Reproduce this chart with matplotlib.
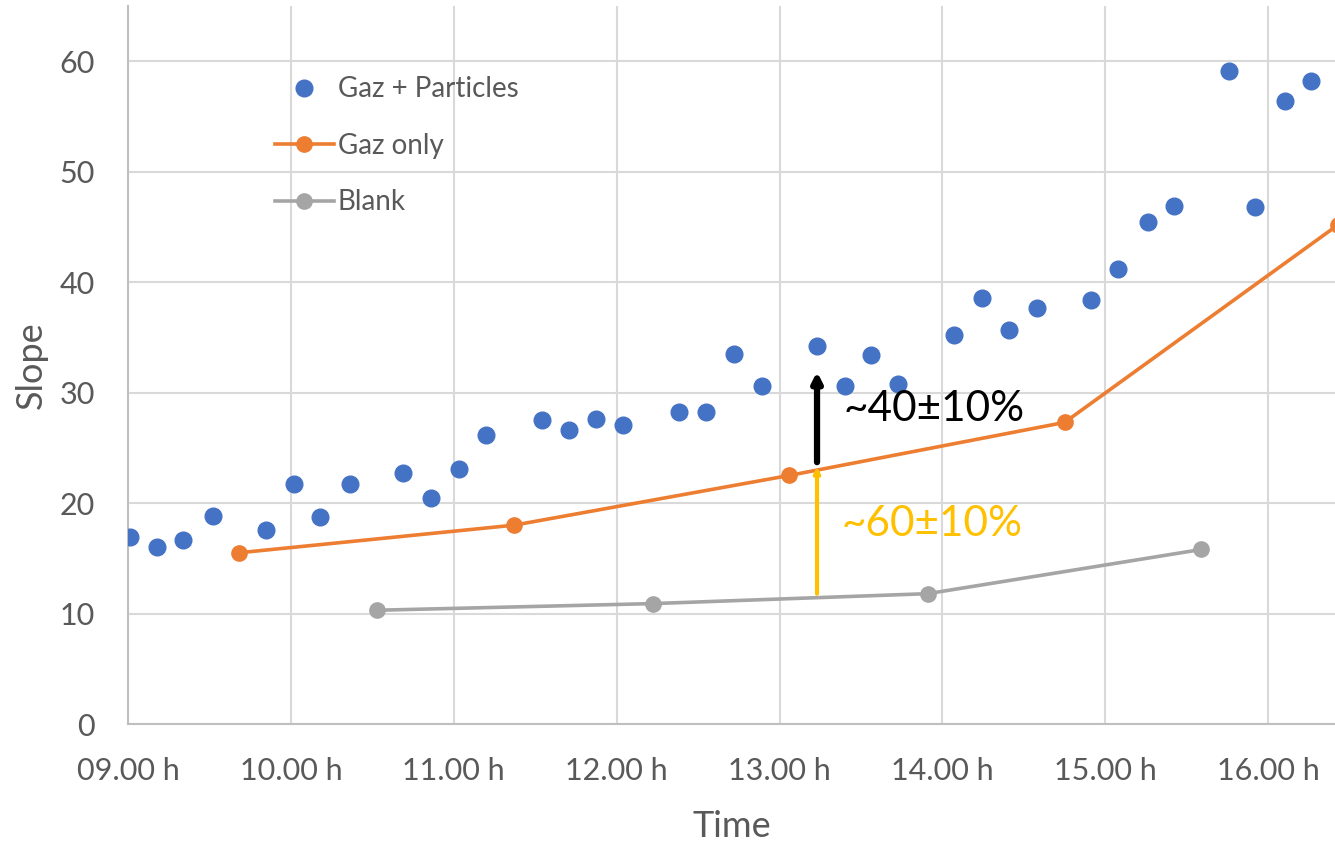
import numpy as np
import matplotlib
matplotlib.use("Agg")
import matplotlib.pyplot as plt

plt.rcParams['font.family'] = ['Lato', 'DejaVu Sans']

# time in decimal hours
gp_time = [9.01, 9.18, 9.34, 9.52, 9.85, 10.02, 10.18, 10.36, 10.69, 10.86,
           11.03, 11.20, 11.54, 11.71, 11.87, 12.04, 12.38, 12.55, 12.72, 12.89,
           13.23, 13.40, 13.56, 13.73, 14.07, 14.24, 14.41, 14.58, 14.91, 15.08,
           15.26, 15.42, 15.76, 15.92, 16.10, 16.26]
gp_slope = [16.9, 16.0, 16.7, 18.8, 17.6, 21.7, 18.7, 21.7, 22.7, 20.5,
            23.1, 26.2, 27.5, 26.6, 27.6, 27.1, 28.2, 28.2, 33.5, 30.6,
            34.2, 30.6, 33.4, 30.8, 35.2, 38.6, 35.7, 37.7, 38.4, 41.2,
            45.4, 46.9, 59.1, 46.8, 56.4, 58.2]

gas_time = [9.68, 11.37, 13.06, 14.75, 16.43]
gas_slope = [15.5, 18.0, 22.5, 27.3, 45.2]

blank_time = [10.53, 12.22, 13.91, 15.59]
blank_slope = [10.3, 10.9, 11.8, 15.8]

xticks = [9, 10, 11, 12, 13, 14, 15, 16]
xtick_labels = ["09.00 h", "10.00 h", "11.00 h", "12.00 h",
                "13.00 h", "14.00 h", "15.00 h", "16.00 h"]
yticks = [0, 10, 20, 30, 40, 50, 60]

blue = "#4472C4"
orange = "#ED7D31"
gray = "#A5A5A5"
gold = "#FFC000"
text_gray = "#595959"

fig = plt.figure(figsize=(13.35, 8.42), dpi=100)
ax = fig.add_axes([0.0959, 0.1401, 0.9041, 0.8529])

ax.plot(gp_time, gp_slope, linestyle='none', marker='o', markersize=12,
        color=blue, label="Gaz + Particles", zorder=3)
ax.plot(gas_time, gas_slope, color=orange, linewidth=2.6, marker='o',
        markersize=11, label="Gaz only", zorder=3)
ax.plot(blank_time, blank_slope, color=gray, linewidth=2.6, marker='o',
        markersize=11, label="Blank", zorder=3)

# contribution arrows
ax.annotate("", xy=(13.23, 31.9), xytext=(13.23, 23.7),
            arrowprops=dict(arrowstyle='-|>', color='black', lw=4.5,
                            mutation_scale=14, shrinkA=0, shrinkB=0), zorder=4)
ax.annotate("", xy=(13.23, 23.3), xytext=(13.23, 11.8),
            arrowprops=dict(arrowstyle='-|>', color=gold, lw=3,
                            mutation_scale=8, shrinkA=0, shrinkB=0), zorder=4)
ax.text(13.39, 28.5, "~40±10%", color='black', fontsize=30.5, va='center', ha='left')
ax.text(13.38, 18.1, "~60±10%", color=gold, fontsize=30.5, va='center', ha='left')

ax.set_xlim(9, 16.41)
ax.set_ylim(0, 65)
ax.set_xticks(xticks)
ax.set_xticklabels(xtick_labels)
ax.set_yticks(yticks)
ax.grid(True, color="#D9D9D9", linewidth=1.5)
ax.set_axisbelow(True)
ax.tick_params(length=0, labelsize=22, colors=text_gray)
ax.tick_params(axis='x', pad=24)
ax.tick_params(axis='y', pad=24)

for side in ['top', 'right']:
    ax.spines[side].set_visible(False)
ax.spines['left'].set_color("#BFBFBF")
ax.spines['left'].set_linewidth(1.5)
ax.spines['bottom'].set_color("#BFBFBF")
ax.spines['bottom'].set_linewidth(1.5)

ax.set_xlabel("Time", fontsize=26, color=text_gray, labelpad=18)
ax.set_ylabel("Slope", fontsize=26, color=text_gray, labelpad=8)

leg = ax.legend(loc='upper left', bbox_to_anchor=(0.122, 0.902), frameon=False,
                fontsize=20, handlelength=2.1, handletextpad=0.15,
                labelspacing=1.1, borderpad=0, borderaxespad=0, numpoints=1)
for t in leg.get_texts():
    t.set_color(text_gray)

fig.savefig("out.png", dpi=100)
